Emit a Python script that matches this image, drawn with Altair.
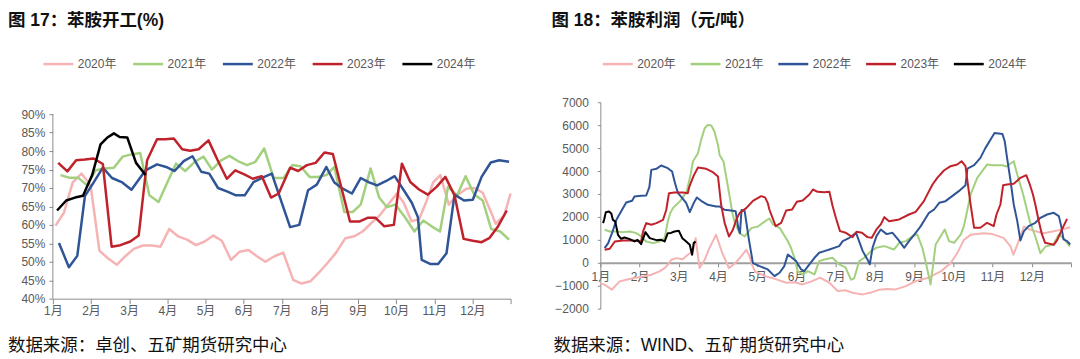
import altair as alt
import pandas as pd

FONT = "Liberation Sans, Noto Sans CJK SC"
CJK = "Noto Sans CJK SC"
AXIS_GREY = "#8c8c8c"
LABEL_GREY = "#595959"

series_names = ["2020年", "2021年", "2022年", "2023年", "2024年"]
series_colors = ["#F5B3B4", "#A3D07F", "#2F5597", "#C0222B", "#000000"]

month_ticks = list(range(13))

# ---------------- 图17 苯胺开工(%) : (month position, value) ----------------
rate_2020 = [(0.07, 59.8), (0.29, 63.3), (0.52, 71.5), (0.75, 73.9), (0.99, 70.7), (1.22, 53.0),
             (1.45, 50.9), (1.68, 49.2), (1.90, 51.5), (2.12, 53.5), (2.36, 54.4), (2.60, 54.4),
             (2.82, 54.1), (3.05, 58.9), (3.28, 56.9), (3.52, 56.0), (3.75, 54.5), (3.98, 55.5),
             (4.21, 57.1), (4.43, 55.7), (4.67, 50.5), (4.89, 52.7), (5.13, 53.2), (5.35, 51.5),
             (5.57, 50.0), (5.81, 51.5), (6.04, 52.5), (6.30, 45.1), (6.52, 44.1), (6.75, 44.7),
             (6.98, 47.1), (7.21, 49.8), (7.42, 52.4), (7.67, 56.4), (7.90, 56.9), (8.12, 58.2),
             (8.33, 60.3), (8.56, 62.5), (8.79, 65.5), (9.02, 68.5), (9.20, 66.0), (9.40, 61.0),
             (9.60, 61.5), (9.80, 66.5), (9.97, 71.5), (10.16, 73.5), (10.38, 65.5), (10.60, 68.0),
             (10.84, 69.8), (11.05, 70.0), (11.27, 68.7), (11.48, 63.6), (11.61, 60.3), (11.83, 62.5),
             (12.0, 68.5)]
rate_2021 = [(0.20, 73.5), (0.42, 72.8), (0.66, 72.8), (0.90, 70.7), (1.12, 74.8), (1.36, 75.3),
             (1.60, 75.5), (1.83, 78.5), (2.06, 79.1), (2.29, 79.5), (2.53, 68.0), (2.77, 66.2),
             (3.00, 71.5), (3.23, 76.6), (3.47, 74.6), (3.72, 77.1), (3.95, 78.5), (4.17, 75.0),
             (4.41, 77.5), (4.63, 78.7), (4.85, 77.3), (5.09, 76.2), (5.31, 77.1), (5.54, 80.7),
             (5.79, 72.7), (6.05, 72.7), (6.28, 76.2), (6.49, 75.9), (6.73, 73.0), (6.95, 73.0),
             (7.17, 73.5), (7.38, 75.7), (7.64, 63.5), (7.86, 63.5), (8.07, 65.5), (8.33, 75.3),
             (8.55, 67.5), (8.76, 64.8), (8.98, 65.5), (9.25, 61.8), (9.48, 58.2), (9.71, 61.2),
             (9.93, 59.6), (10.15, 58.2), (10.36, 70.3), (10.60, 68.0), (10.82, 73.2), (11.05, 68.2),
             (11.27, 66.6), (11.49, 58.9), (11.73, 58.2), (11.96, 56.0)]
rate_2022 = [(0.16, 55.1), (0.42, 48.5), (0.64, 51.6), (0.84, 67.8), (1.07, 71.5), (1.31, 75.5),
             (1.55, 72.7), (1.82, 71.5), (2.06, 69.5), (2.43, 74.8), (2.73, 76.4), (2.97, 75.7),
             (3.19, 74.6), (3.43, 77.3), (3.66, 78.6), (3.89, 74.4), (4.10, 73.9), (4.33, 70.0),
             (4.56, 69.1), (4.80, 68.0), (5.03, 68.0), (5.26, 71.6), (5.50, 72.8), (5.74, 73.9),
             (6.22, 59.4), (6.46, 60.0), (6.69, 69.4), (6.92, 70.9), (7.17, 75.7), (7.38, 71.5),
             (7.60, 69.8), (7.84, 68.5), (8.07, 72.7), (8.29, 71.5), (8.50, 70.7), (8.74, 71.9),
             (8.96, 73.2), (9.20, 69.4), (9.41, 66.0), (9.57, 62.1), (9.67, 50.5), (9.89, 49.4),
             (10.10, 49.4), (10.32, 52.3), (10.53, 68.2), (10.78, 66.6), (11.01, 66.8), (11.24, 73.0),
             (11.48, 76.9), (11.70, 77.5), (11.96, 77.1)]
rate_2023 = [(0.14, 76.8), (0.38, 74.5), (0.61, 77.5), (0.84, 77.7), (1.07, 78.0), (1.31, 76.5),
             (1.54, 54.1), (1.77, 54.5), (2.03, 55.5), (2.25, 57.1), (2.47, 77.5), (2.73, 83.2),
             (2.95, 83.2), (3.17, 83.4), (3.39, 80.5), (3.60, 80.1), (3.82, 80.5), (4.08, 82.9),
             (4.32, 77.5), (4.56, 72.5), (4.78, 74.8), (5.02, 73.7), (5.24, 72.5), (5.48, 73.2),
             (5.72, 67.4), (5.92, 68.5), (6.22, 75.5), (6.43, 74.6), (6.66, 76.2), (6.89, 76.8),
             (7.12, 79.6), (7.34, 79.2), (7.79, 60.9), (8.03, 60.9), (8.25, 61.9), (8.46, 61.9),
             (8.69, 59.6), (8.94, 60.0), (9.15, 76.6), (9.37, 71.6), (9.60, 69.6), (9.83, 68.2),
             (10.06, 70.3), (10.29, 73.0), (10.53, 68.0), (10.77, 56.2), (11.01, 55.7), (11.24, 55.3),
             (11.44, 56.4), (11.66, 59.4), (11.90, 63.9)]
rate_2024 = [(0.11, 63.9), (0.35, 66.6), (0.58, 67.4), (0.79, 67.9), (1.03, 73.5), (1.25, 81.8),
             (1.42, 83.6), (1.60, 84.8), (1.75, 83.8), (1.95, 83.7), (2.18, 76.8), (2.43, 73.5)]

rate_ticks = [40, 45, 50, 55, 60, 65, 70, 75, 80, 85, 90]

# ---------------- 图18 苯胺利润（元/吨） ----------------
profit_2020 = [(0.0, -900), (0.11, -958), (0.24, -1104), (0.29, -1174), (0.49, -813), (0.66, -740),
               (0.87, -668), (1.09, -595), (1.30, -523), (1.51, -377), (1.64, -232), (1.72, -87),
               (1.81, 131), (1.94, 203), (2.10, 150), (2.23, 348), (2.36, 494), (2.43, 1074),
               (2.53, -232), (2.66, 131), (2.78, 639), (2.95, 1220), (3.11, 421), (3.28, -232),
               (3.45, 0), (3.60, 300), (3.72, 565), (3.80, 300), (3.87, -100), (3.95, -400),
               (4.10, -500), (4.23, -600), (4.45, -700), (4.74, -871), (4.95, -850), (5.16, -944),
               (5.40, -800), (5.60, -650), (5.84, -871), (6.05, -1234), (6.25, -1200), (6.43, -1307),
               (6.69, -1379), (6.90, -1300), (7.10, -1180), (7.32, -1145), (7.53, -1162), (7.79, -1016),
               (8.04, -799), (8.34, -667), (8.68, -377), (8.93, -15), (9.10, 420), (9.27, 1000),
               (9.44, 1217), (9.60, 1250), (9.78, 1290), (10.00, 1250), (10.29, 1072), (10.46, 709),
               (10.53, 348), (10.63, 783), (10.80, 1580), (10.97, 1435), (11.15, 1350), (11.31, 1290),
               (11.50, 1350), (11.73, 1435), (11.98, 1551)]
profit_2021 = [(0.11, 1437), (0.24, 1365), (0.41, 1365), (0.58, 1336), (0.75, 1365), (0.92, 1292),
               (1.04, 1147), (1.17, 929), (1.34, 857), (1.51, 929), (1.64, 1074), (1.72, 1800),
               (1.78, 2163), (1.85, 2381), (2.04, 2700), (2.20, 3100), (2.30, 3833), (2.36, 4414),
               (2.49, 4777), (2.57, 5358), (2.66, 5866), (2.74, 6011), (2.83, 5982), (2.91, 5721),
               (3.00, 5140), (3.04, 4704), (3.14, 4414), (3.23, 3543), (3.29, 2962), (3.36, 2236),
               (3.42, 1800), (3.55, 1292), (3.68, 1147), (3.85, 1510), (4.02, 1583), (4.23, 1844),
               (4.31, 1931), (4.40, 1670), (4.57, 1525), (4.78, 944), (4.86, 653), (4.95, 218),
               (5.03, -363), (5.16, -508), (5.29, -363), (5.46, -508), (5.58, 73), (5.71, 145),
               (5.92, 218), (6.09, -73), (6.25, -200), (6.39, -739), (6.47, -682), (6.60, 73),
               (6.73, 218), (6.90, 508), (7.03, 653), (7.24, 726), (7.49, 581), (7.62, 871),
               (7.79, 944), (7.96, 1162), (8.08, 1234), (8.21, 653), (8.30, 0), (8.42, -944),
               (8.55, 799), (8.78, 1452), (8.89, 944), (9.02, 871), (9.19, 1234), (9.27, 1597),
               (9.36, 2323), (9.44, 2977), (9.61, 3703), (9.86, 4283), (10.03, 4254), (10.25, 4254),
               (10.35, 4200), (10.54, 4429), (10.63, 3848), (10.78, 2977), (10.95, 1800), (11.09, 1145),
               (11.22, 420), (11.35, 709), (11.55, 800), (11.69, 1234), (11.81, 1072), (11.97, 709)]
profit_2022 = [(0.11, 639), (0.20, 857), (0.30, 1300), (0.41, 1873), (0.55, 2300), (0.66, 2628),
               (0.81, 2701), (0.87, 2889), (1.04, 2918), (1.17, 2933), (1.25, 3300), (1.30, 4051),
               (1.43, 4095), (1.55, 4240), (1.72, 4124), (1.83, 3978), (1.90, 3500), (1.98, 3035),
               (2.09, 2817), (2.19, 2599), (2.28, 2207), (2.38, 2600), (2.46, 2846), (2.57, 2701),
               (2.74, 2527), (2.95, 2450), (3.04, 2454), (3.17, 2309), (3.38, 2265), (3.45, 2250),
               (3.52, 1500), (3.56, 1290), (3.60, 2300), (3.68, 2250), (3.78, 1100), (3.89, -15),
               (4.06, -145), (4.27, -290), (4.44, -581), (4.57, -436), (4.69, -145), (4.78, 363),
               (4.99, 73), (5.12, -290), (5.20, -363), (5.33, -73), (5.46, 218), (5.58, 436),
               (5.71, 508), (5.84, 581), (6.09, 726), (6.18, 944), (6.35, 1089), (6.52, 1307),
               (6.69, 508), (6.81, 145), (6.87, -73), (6.94, 653), (7.04, 1162), (7.15, 1452),
               (7.30, 1250), (7.45, 1307), (7.60, 1000), (7.75, 653), (7.87, 944), (8.04, 1307),
               (8.17, 1597), (8.30, 1960), (8.38, 2178), (8.51, 2323), (8.64, 2614), (8.80, 2686),
               (8.97, 2904), (9.14, 3122), (9.31, 3383), (9.36, 4109), (9.53, 4254), (9.69, 4574),
               (9.82, 5009), (9.95, 5372), (10.05, 5663), (10.25, 5619), (10.31, 5300), (10.37, 4574),
               (10.46, 3557), (10.54, 2541), (10.63, 1815), (10.71, 973), (10.80, 1379), (10.92, 1597),
               (11.09, 1742), (11.22, 1960), (11.39, 2105), (11.56, 2178), (11.69, 2033), (11.75, 1597),
               (11.81, 1016), (11.90, 944), (11.98, 798)]
profit_2023 = [(0.11, 566), (0.24, 610), (0.37, 929), (0.58, 973), (0.83, 973), (1.04, 929),
               (1.09, 1365), (1.17, 1728), (1.30, 1655), (1.43, 1728), (1.60, 1873), (1.68, 2300),
               (1.75, 3035), (1.89, 3064), (2.11, 3064), (2.23, 3035), (2.27, 3325), (2.38, 3800),
               (2.49, 4153), (2.70, 4095), (2.87, 3949), (3.00, 3761), (3.08, 2527), (3.17, 1728),
               (3.28, 1147), (3.38, 1438), (3.47, 1900), (3.55, 2163), (3.72, 2381), (3.89, 2701),
               (4.10, 2904), (4.20, 2850), (4.27, 2600), (4.31, 2323), (4.47, 1597), (4.61, 1742),
               (4.74, 2280), (4.89, 2323), (5.01, 2657), (5.16, 2715), (5.33, 2977), (5.42, 3194),
               (5.54, 3093), (5.71, 3078), (5.84, 3093), (5.92, 2483), (6.01, 1931), (6.11, 1379),
               (6.26, 1307), (6.43, 1118), (6.53, 1350), (6.67, 1307), (6.81, 1118), (6.92, 1089),
               (7.04, 1452), (7.15, 1670), (7.24, 1989), (7.36, 1815), (7.62, 1888), (7.87, 2105),
               (8.04, 2222), (8.25, 2686), (8.38, 3122), (8.47, 3412), (8.59, 3703), (8.76, 4022),
               (8.93, 4211), (9.10, 4283), (9.21, 4429), (9.31, 4211), (9.38, 3300), (9.44, 2541),
               (9.53, 1525), (9.69, 1525), (9.86, 1742), (10.03, 1597), (10.10, 2105), (10.20, 2541),
               (10.27, 3383), (10.37, 3412), (10.54, 3441), (10.71, 3703), (10.86, 3819), (10.95, 3412),
               (11.03, 2977), (11.09, 2541), (11.18, 1800), (11.26, 1234), (11.34, 870), (11.56, 783),
               (11.65, 1000), (11.73, 1304), (11.81, 1600), (11.90, 1913)]
profit_2024 = [(0.07, 1728), (0.10, 1900), (0.14, 2207), (0.22, 2236), (0.28, 2150), (0.32, 1873),
               (0.38, 1800), (0.45, 1220), (0.53, 1045), (0.62, 1100), (0.75, 1030), (0.87, 929),
               (0.95, 1000), (1.04, 813), (1.10, 1100), (1.15, 1336), (1.26, 1074), (1.43, 987),
               (1.55, 1000), (1.64, 929), (1.72, 1292), (1.80, 1300), (1.89, 1365), (2.00, 1394),
               (2.09, 1074), (2.19, 929), (2.28, 784), (2.34, 348), (2.38, 857), (2.43, 929)]

profit_ticks = [-2000, -1000, 0, 1000, 2000, 3000, 4000, 5000, 6000, 7000]

title_left = "图 17：苯胺开工(%)"
title_right = "图 18：苯胺利润（元/吨）"
source_left = "数据来源：卓创、五矿期货研究中心"
source_right = "数据来源：WIND、五矿期货研究中心"


def long_df(series_lists):
    rows = []
    for name, pts in zip(series_names, series_lists):
        for m, v in pts:
            rows.append({"series": name, "m": m, "v": v})
    return pd.DataFrame(rows)


rate_df = long_df([rate_2020, rate_2021, rate_2022, rate_2023, rate_2024])
profit_df = long_df([profit_2020, profit_2021, profit_2022, profit_2023, profit_2024])

month_label_expr = "datum.value < 12 ? (datum.value + 1) + '月' : ''"

L_W, L_H = 459, 197
R_W, R_H = 472, 207
TOP_PAD = 4
TITLE_Y = -(94 - TOP_PAD)
SOURCE_Y = 235


def legend(x, y, pad):
    return alt.Legend(orient="none", legendX=x, legendY=y, direction="horizontal", title=None,
                      symbolType="stroke", symbolSize=900, symbolStrokeWidth=2.5,
                      labelFont=FONT, labelFontSize=12, labelColor=LABEL_GREY, labelOffset=3,
                      columnPadding=pad, padding=0)


def text_layer(txt, x, y, size, weight):
    return alt.Chart(pd.DataFrame({"t": [txt]})).mark_text(
        font=FONT, fontSize=size, fontWeight=weight, color="#111111", align="left",
        baseline="top").encode(text="t:N", x=alt.value(x), y=alt.value(y))


color_scale = alt.Scale(domain=series_names, range=series_colors)

# ---------- left panel ----------
l_x = alt.Scale(domain=[0, 12], nice=False, zero=False)
l_y = alt.Scale(domain=[40, 40 + L_H / 3.7], nice=False, zero=False)
l_y_axis = alt.Axis(values=rate_ticks, labelExpr="datum.value + '%'", title=None,
                    grid=False, domain=False, ticks=True, tickColor=AXIS_GREY, tickSize=4,
                    labelFont=FONT, labelFontSize=12, labelColor=LABEL_GREY, labelPadding=4)

left_lines = alt.Chart(rate_df).mark_line(strokeWidth=2.5, strokeJoin="round").encode(
    x=alt.X("m:Q", scale=l_x, axis=alt.Axis(values=month_ticks, labelExpr=month_label_expr, title=None,
                                             grid=False, domainColor=AXIS_GREY, tickColor=AXIS_GREY,
                                             tickSize=5, labelFont=FONT, labelFontSize=12,
                                             labelColor=LABEL_GREY, labelPadding=2, labelFlush=False,
                                             labelOverlap=False)),
    y=alt.Y("v:Q", scale=l_y, axis=l_y_axis),
    color=alt.Color("series:N", scale=color_scale, legend=legend(-11, -55, 11)),
)

left_axis_line = alt.Chart(pd.DataFrame({"v": [rate_ticks[0]], "v2": [rate_ticks[-1]]})).mark_rule(
    color=AXIS_GREY, strokeWidth=1).encode(
    x=alt.value(0), x2=alt.value(0), y=alt.Y("v:Q", scale=l_y, axis=l_y_axis), y2="v2:Q")

left = alt.layer(left_axis_line, left_lines,
                 text_layer(title_left, -45, TITLE_Y, 17.5, "bold"),
                 text_layer(source_left, -45, SOURCE_Y, 17.5, "normal")).properties(width=L_W, height=L_H)

# ---------- right panel ----------
r_x = alt.Scale(domain=[0, 12], nice=False, zero=False)
r_y = alt.Scale(domain=[-2000, 7000], nice=False, zero=False)
zero_offset = -round(2000 * R_H / 9000)

right_lines = alt.Chart(profit_df).mark_line(strokeWidth=2, strokeJoin="round").encode(
    x=alt.X("m:Q", scale=r_x, axis=alt.Axis(values=month_ticks, labelExpr=month_label_expr, title=None,
                                             grid=False, domainColor="#a0a0a0", domainWidth=2,
                                             tickColor=AXIS_GREY, tickSize=4, offset=zero_offset,
                                             labelFont=FONT, labelFontSize=12, labelColor=LABEL_GREY,
                                             labelPadding=5, labelFlush=False, labelOverlap=False)),
    y=alt.Y("v:Q", scale=r_y, axis=alt.Axis(values=profit_ticks, format="d", title=None, grid=False,
                                             domainColor=AXIS_GREY, tickColor=AXIS_GREY, tickSize=3,
                                             labelFont=FONT, labelFontSize=12, labelColor=LABEL_GREY,
                                             labelPadding=9)),
    color=alt.Color("series:N", scale=color_scale, legend=legend(1, -55, 9)),
)

right = alt.layer(right_lines,
                  text_layer(title_right, -49, TITLE_Y, 17.5, "bold"),
                  text_layer(source_right, -47, SOURCE_Y, 17.5, "normal")).properties(width=R_W, height=R_H)

chart = alt.hconcat(left, right, spacing=90, bounds="flush").resolve_scale(
    color="independent").resolve_legend(color="independent").properties(
    padding={"left": 0, "top": TOP_PAD, "right": 0, "bottom": 0}).configure_view(stroke=None)

chart.save("out.html", embed_options={"renderer": "svg", "actions": False})
